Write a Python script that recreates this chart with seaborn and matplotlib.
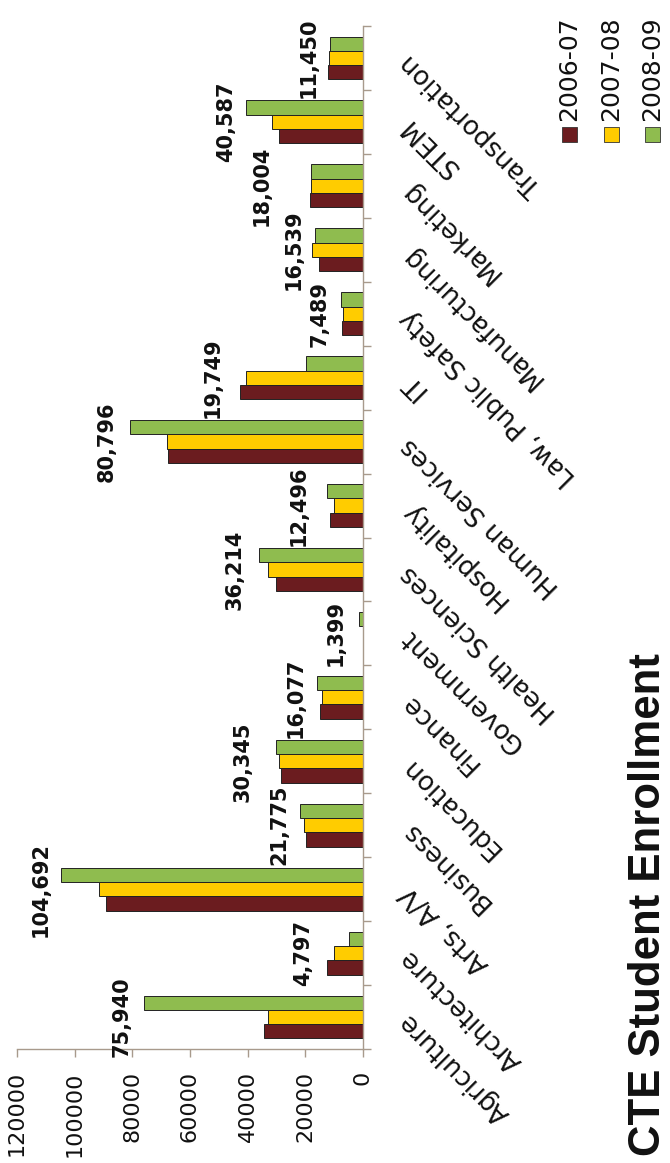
import numpy as np
import pandas as pd
import matplotlib
matplotlib.use("Agg")
import matplotlib.pyplot as plt
from matplotlib.patches import Rectangle
from matplotlib.ticker import FixedLocator
import seaborn as sns

# ---------------- data ----------------
categories = ["Agriculture", "Architecture", "Arts, A/V", "Business", "Education",
              "Finance", "Government", "Health Sciences", "Hospitality",
              "Human Services", "IT", "Law, Public Safety", "Manufacturing",
              "Marketing", "STEM", "Transportation"]
years = ["2006-07", "2007-08", "2008-09"]
v_2006_07 = [34340, 12600, 89130, 19880, 28310, 14900, 0, 30040, 11550,
             67510, 42660, 7400, 15250, 18300, 29020, 12020]
v_2007_08 = [32830, 9940, 91560, 20570, 29240, 14220, 0, 32950, 10050,
             68090, 40690, 7100, 17550, 17900, 31670, 11670]
v_2008_09 = [75940, 4797, 104692, 21775, 30345, 16077, 1399, 36214, 12496,
             80796, 19749, 7489, 16539, 18004, 40587, 11450]
value_ticks = [0, 20000, 40000, 60000, 80000, 100000, 120000]

# label placement offsets (pixels beyond the longest bar of each group)
label_gap_px = [12, 14, 10, 11, 23, 11, 13, 14, 18, 13, 17, 12, 9, 39, 10, 10]

colors = {"2006-07": "#6B1C1F", "2007-08": "#FFCC00", "2008-09": "#8FBC4F"}

# ---------------- figure ----------------
sns.set_theme(style="white")
plt.rcParams["font.family"] = ["DejaVu Sans"]

W, H = 670, 1163
fig = plt.figure(figsize=(W / 100, H / 100), dpi=100)
ax_left, ax_right, ax_top, ax_bot = 17, 363, 26, 1049
ax = fig.add_axes([ax_left / W, 1 - ax_bot / H,
                   (ax_right - ax_left) / W, (ax_bot - ax_top) / H])

rows = []
for yr, vals in zip(years, [v_2006_07, v_2007_08, v_2008_09]):
    for c, v in zip(categories, vals):
        rows.append({"Cluster": c, "Year": yr, "Enrollment": v})
df = pd.DataFrame(rows)

order = categories[::-1]          # Transportation at top
hue_order = years[::-1]           # green bar on top of each group
sns.barplot(data=df, x="Enrollment", y="Cluster", hue="Year", orient="h",
            order=order, hue_order=hue_order, palette=colors, saturation=1,
            width=0.67, gap=0, edgecolor="#222222", linewidth=0.7,
            legend=False, ax=ax, errorbar=None)

ax.set_xlim(120000, 0)
ax.set_ylim(len(order) - 0.5, -0.5)
ax.set_xlabel("")
ax.set_ylabel("")

axis_col = "#A89A8C"
for s in ["top", "left"]:
    ax.spines[s].set_visible(False)
for s in ["bottom", "right"]:
    ax.spines[s].set_visible(True)
    ax.spines[s].set_color(axis_col)
    ax.spines[s].set_linewidth(1.0)

# value axis
ax.set_xticks(value_ticks, labels=[str(t) for t in value_ticks], rotation=90,
              ha="center", va="top", fontsize=16, color="#111111")
ax.tick_params(axis="x", which="major", direction="out", length=6, width=1,
               color=axis_col, pad=10, bottom=True)

# category axis on the right
ax.yaxis.tick_right()
ax.set_yticks(range(len(order)), labels=order, rotation=135, ha="right",
              va="center", rotation_mode="anchor", fontsize=18.7, color="#111111")
ax.tick_params(axis="y", which="major", length=0, pad=30, right=False, left=False,
               labelright=True, labelleft=False)
ax.yaxis.set_minor_locator(FixedLocator(np.arange(-0.5, len(order), 1.0)))
ax.tick_params(axis="y", which="minor", right=True, left=False, direction="out",
               length=6, width=1, color=axis_col)
ax.grid(False)

# data labels (2008-09 values), placed beyond the longest bar of the group
for i, cat in enumerate(order):
    k = categories.index(cat)
    top = max(v_2006_07[k], v_2007_08[k], v_2008_09[k])
    ax.annotate(f"{v_2008_09[k]:,}", xy=(top, i), xytext=(-label_gap_px[k], 0),
                textcoords="offset pixels", rotation=90, ha="right", va="center",
                fontsize=15, fontweight="bold", color="#111111")

# title
fig.text(649 / W, 1 - 905 / H, "CTE Student Enrollment", rotation=90,
         ha="center", va="center", fontsize=31.5, fontweight="bold",
         family=["Liberation Sans", "DejaVu Sans"], color="#111111")

# legend (columns: marker below rotated text)
leg_x = [569.5, 611.0, 652.5]
for cx, yr in zip(leg_x, years):
    fig.add_artist(Rectangle(((cx - 7.5) / W, 1 - 142 / H), 15 / W, 15 / H,
                             transform=fig.transFigure, facecolor=colors[yr],
                             edgecolor="#333333", linewidth=0.6))
    fig.text(cx / W, 1 - 121 / H, yr, rotation=90, ha="center", va="bottom",
             fontsize=18, color="#111111")

fig.savefig("out.png", dpi=100, facecolor="white")
